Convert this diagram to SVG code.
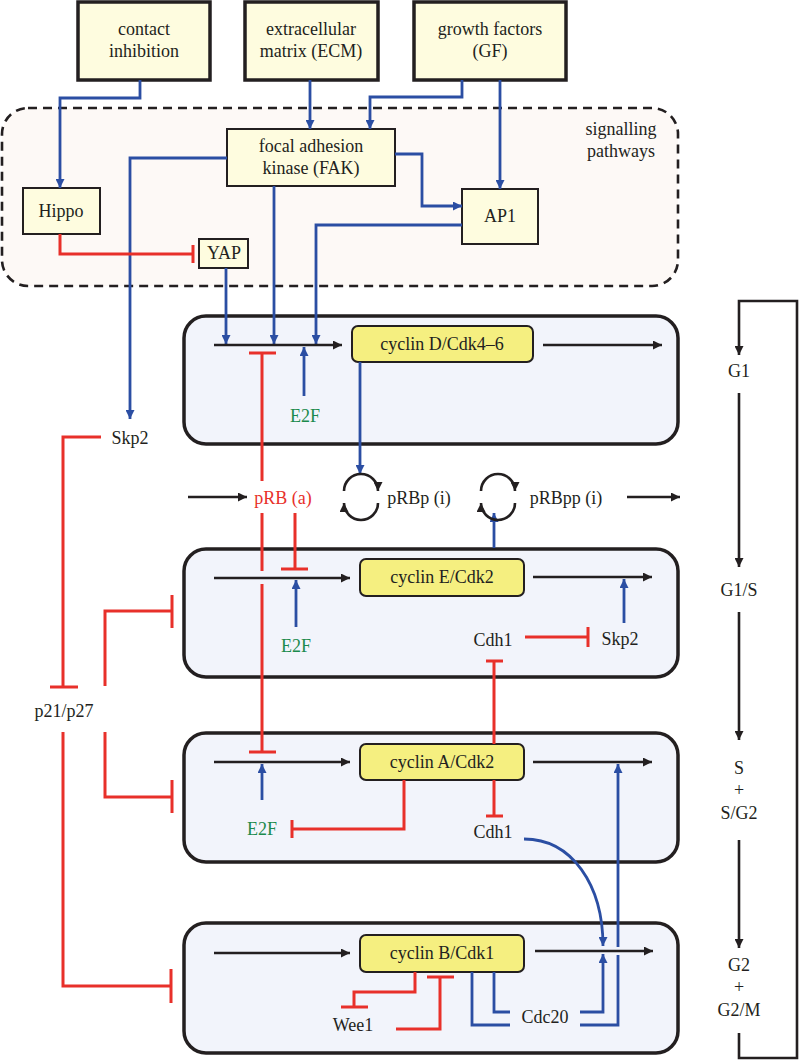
<svg xmlns="http://www.w3.org/2000/svg" width="800" height="1064" viewBox="0 0 800 1064">
<style>
text{font-family:'Liberation Serif','Times New Roman','DejaVu Serif',serif;font-size:18px;fill:#231f20;text-anchor:middle}
.red{fill:#e8302a}
.grn{fill:#1b8a4c}
.ext{fill:#fefcdf;stroke:#231f20;stroke-width:3.5}
.sig{fill:#fefcdf;stroke:#231f20;stroke-width:2}
.cell{fill:#f2f4fb;stroke:#231f20;stroke-width:3.5}
.cyc{fill:#f5ef80;stroke:#231f20;stroke-width:2}
.b{fill:none;stroke:#2b4ea3;stroke-width:2.8}
.r{fill:none;stroke:#e8302a;stroke-width:3}
.k{fill:none;stroke:#231f20;stroke-width:2.6}
</style>
<defs>
<marker id="ab" viewBox="0 0 10 10" refX="10" refY="5" markerWidth="10" markerHeight="9" markerUnits="userSpaceOnUse" orient="auto"><path d="M0,0 L10,5 L0,10 z" fill="#2b4ea3"/></marker>
<marker id="ak" viewBox="0 0 10 10" refX="10" refY="5" markerWidth="11" markerHeight="9" markerUnits="userSpaceOnUse" orient="auto"><path d="M0,0 L10,5 L0,10 z" fill="#231f20"/></marker>
</defs>
<rect width="800" height="1064" fill="#ffffff"/>

<g id="signalling">
<rect x="2" y="108" width="676" height="178" rx="26" fill="#fdf9f6" stroke="#231f20" stroke-width="2.6" stroke-dasharray="9,6"/>
<text x="621" y="135">signalling</text>
<text x="621" y="157">pathways</text>
</g>

<g id="contact"><rect class="ext" x="78" y="2" width="132" height="78"/><text x="144" y="35">contact</text><text x="144" y="57">inhibition</text></g>
<g id="ecm"><rect class="ext" x="245" y="2" width="133" height="78"/><text x="311" y="35">extracellular</text><text x="311" y="57">matrix (ECM)</text></g>
<g id="gf"><rect class="ext" x="414" y="2" width="152" height="78"/><text x="490" y="35">growth factors</text><text x="490" y="57">(GF)</text></g>
<g id="fak"><rect class="sig" x="227" y="129" width="168" height="57"/><text x="311" y="152">focal adhesion</text><text x="311" y="174">kinase (FAK)</text></g>
<g id="hippo"><rect class="sig" x="23" y="188" width="77" height="46"/><text x="61" y="217">Hippo</text></g>
<g id="yap"><rect class="sig" x="199" y="239" width="49" height="29"/><text x="224" y="259">YAP</text></g>
<g id="ap1"><rect class="sig" x="462" y="189" width="76" height="55"/><text x="500" y="222">AP1</text></g>

<g id="phaseG1"><rect class="cell" x="184" y="316" width="494" height="128" rx="22"/></g>
<g id="phaseG1S"><rect class="cell" x="184" y="549" width="494" height="128" rx="22"/></g>
<g id="phaseS"><rect class="cell" x="184" y="733" width="494" height="129" rx="22"/></g>
<g id="phaseG2"><rect class="cell" x="184" y="923" width="494" height="130" rx="22"/></g>

<g id="cycD"><rect class="cyc" x="352" y="326" width="181" height="36" rx="6"/><text x="442" y="350">cyclin D/Cdk4–6</text></g>
<g id="cycE"><rect class="cyc" x="360" y="559" width="164" height="37" rx="6"/><text x="442" y="583">cyclin E/Cdk2</text></g>
<g id="cycA"><rect class="cyc" x="360" y="744" width="164" height="36" rx="6"/><text x="442" y="768">cyclin A/Cdk2</text></g>
<g id="cycB"><rect class="cyc" x="360" y="935" width="164" height="37" rx="6"/><text x="442" y="959">cyclin B/Cdk1</text></g>

<g id="skp2a"><text x="130" y="444">Skp2</text></g>
<g id="e2fD"><text class="grn" x="305" y="422">E2F</text></g>
<g id="prb"><text class="red" x="283" y="504">pRB (a)</text></g>
<g id="prbp"><text x="419" y="504">pRBp (i)</text></g>
<g id="prbpp"><text x="566" y="504">pRBpp (i)</text></g>
<g id="e2fE"><text class="grn" x="296" y="652">E2F</text></g>
<g id="cdh1E"><text x="493" y="646">Cdh1</text></g>
<g id="skp2E"><text x="620" y="645">Skp2</text></g>
<g id="p21"><text x="64" y="717">p21/p27</text></g>
<g id="e2fA"><text class="grn" x="262" y="835">E2F</text></g>
<g id="cdh1A"><text x="493" y="838">Cdh1</text></g>
<g id="wee1"><text x="353" y="1031">Wee1</text></g>
<g id="cdc20"><text x="545" y="1023">Cdc20</text></g>
<g id="g1"><text x="739" y="377">G1</text></g>
<g id="g1s"><text x="739" y="596">G1/S</text></g>
<g id="s"><text x="739" y="774">S</text><text x="739" y="796">+</text><text x="739" y="819">S/G2</text></g>
<g id="g2"><text x="739" y="971">G2</text><text x="739" y="993">+</text><text x="739" y="1016">G2/M</text></g>

<g id="connectors">
<path class="b" d="M140,80 V98 H60 V188" marker-end="url(#ab)"/>
<path class="b" d="M310,80 V129" marker-end="url(#ab)"/>
<path class="b" d="M462,80 V97 H370 V129" marker-end="url(#ab)"/>
<path class="b" d="M500,80 V189" marker-end="url(#ab)"/>
<path class="b" d="M395,154 H422 V206 H462" marker-end="url(#ab)"/>
<path class="b" d="M227,158 H130 V419" marker-end="url(#ab)"/>
<path class="b" d="M274,186 V344" marker-end="url(#ab)"/>
<path class="b" d="M226,268 V344" marker-end="url(#ab)"/>
<path class="b" d="M462,225 H316 V344" marker-end="url(#ab)"/>
<path class="b" d="M360,362 V474" marker-end="url(#ab)"/>
<path class="b" d="M494,548 V513" marker-end="url(#ab)"/>
<path class="b" d="M304,396 V347" marker-end="url(#ab)"/>
<path class="b" d="M296,627 V580" marker-end="url(#ab)"/>
<path class="b" d="M624,623 V579" marker-end="url(#ab)"/>
<path class="b" d="M262,800 V764" marker-end="url(#ab)"/>
<path class="b" d="M524,839 C572,839 603,885 603,946" marker-end="url(#ab)"/>
<path class="b" d="M580,1025 H618 V955"/>
<path class="b" d="M618,947 V764" marker-end="url(#ab)"/>
<path class="b" d="M580,1012 H603 V954" marker-end="url(#ab)"/>
<path class="b" d="M472,972 V1025 H510"/>
<path class="b" d="M494,972 V1012 H510"/>
<path class="r" d="M60,234 V254 H193 M193,245 V263"/>
<path class="r" d="M262,481 V353 M249,353 H276"/>
<path class="r" d="M262,513 V571 M262,584 V752 M249,752 H276"/>
<path class="r" d="M295,513 V569 M281,569 H308"/>
<path class="r" d="M101,437 H63 V687 M50,687 H78"/>
<path class="r" d="M105,686 V611 H172 M172,595 V628"/>
<path class="r" d="M105,732 V797 H172 M172,780 V813"/>
<path class="r" d="M63,732 V986 H171 M171,969 V1003"/>
<path class="r" d="M525,637 H588 M588,627 V647"/>
<path class="r" d="M494,744 V661 M486,661 H503"/>
<path class="r" d="M404,780 V829 H292 M292,820 V838"/>
<path class="r" d="M494,780 V816 M486,816 H503"/>
<path class="r" d="M415,972 V992 H354 V1007 M341,1007 H368"/>
<path class="r" d="M396,1029 H440 V977 M427,977 H454"/>
<path class="k" d="M214,345 H342" marker-end="url(#ak)"/>
<path class="k" d="M543,345 H662" marker-end="url(#ak)"/>
<path class="k" d="M214,578 H350" marker-end="url(#ak)"/>
<path class="k" d="M533,577 H652" marker-end="url(#ak)"/>
<path class="k" d="M214,762 H350" marker-end="url(#ak)"/>
<path class="k" d="M533,762 H652" marker-end="url(#ak)"/>
<path class="k" d="M214,953 H350" marker-end="url(#ak)"/>
<path class="k" d="M535,951 H653" marker-end="url(#ak)"/>
<path class="k" d="M188,497 H247" marker-end="url(#ak)"/>
<path class="k" d="M627,497 H680" marker-end="url(#ak)"/>
<path class="k" d="M344,491 A17,17 0 0 1 378,491" marker-end="url(#ak)"/>
<path class="k" d="M378,503 A17,17 0 0 1 344,503" marker-end="url(#ak)"/>
<path class="k" d="M481,491 A17,17 0 0 1 515,491" marker-end="url(#ak)"/>
<path class="k" d="M515,503 A17,17 0 0 1 481,503" marker-end="url(#ak)"/>
<path class="k" d="M739,1033 V1058 H797 V301 H739 V355" marker-end="url(#ak)"/>
<path class="k" d="M739,393 V567" marker-end="url(#ak)"/>
<path class="k" d="M739,612 V740" marker-end="url(#ak)"/>
<path class="k" d="M739,840 V948" marker-end="url(#ak)"/>
</g>
</svg>
